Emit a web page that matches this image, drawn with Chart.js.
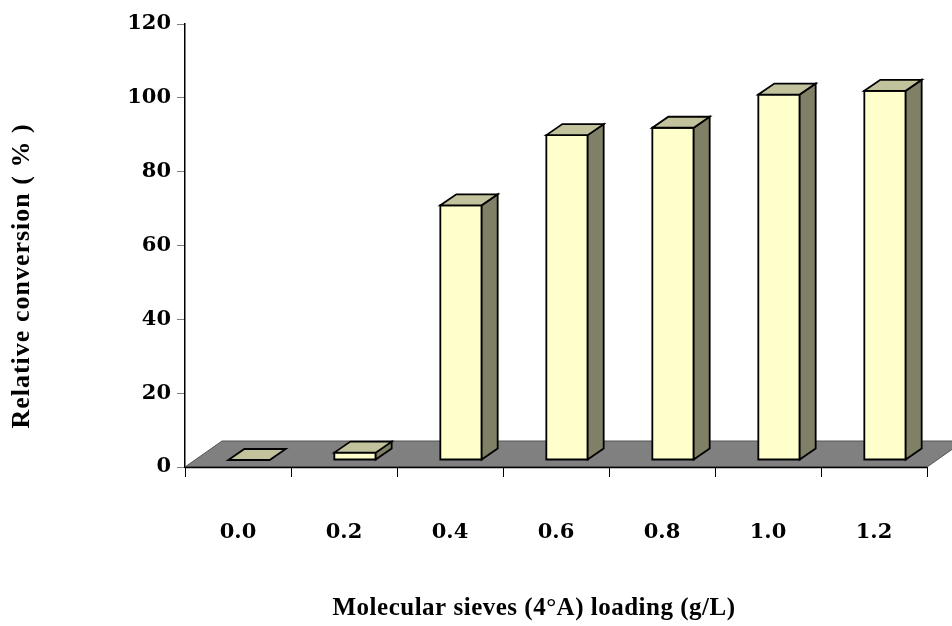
<!DOCTYPE html>
<html>
<head>
<meta charset="utf-8">
<script src="https://cdn.jsdelivr.net/npm/chart.js@4/dist/chart.umd.min.js"></script>
<style>
  html, body { margin: 0; padding: 0; background: #fff; }
  #wrap { width: 952px; height: 626px; }
</style>
</head>
<body>
<div id="wrap"><canvas id="chart" width="952" height="626"></canvas></div>
<script>
const loadings = ['0.0', '0.2', '0.4', '0.6', '0.8', '1.0', '1.2'];
const conversion = [0, 2, 69, 88, 90, 99, 100];
const yTicks = [0, 20, 40, 60, 80, 100, 120];

const frontColor = '#ffffcc';
const topColor = '#c2c29c';
const sideColor = '#808066';
const floorColor = '#808080';

// 3D look: floor depth, bar shift onto the floor, bar depth
const floorDx = 37, floorDy = -26;
const shiftDx = 11, shiftDy = -7;
const barDx = 16, barDy = -11;

const threeD = {
  id: 'threeD',
  beforeInit(chart) {
    chart.ctx.letterSpacing = '3px';
  },
  beforeDatasetsDraw(chart) {
    const ctx = chart.ctx;
    const a = chart.chartArea;
    const y0 = chart.scales.y.getPixelForValue(0);
    ctx.save();
    ctx.beginPath();
    ctx.moveTo(a.left, y0);
    ctx.lineTo(a.right, y0);
    ctx.lineTo(a.right + floorDx, y0 + floorDy);
    ctx.lineTo(a.left + floorDx, y0 + floorDy);
    ctx.closePath();
    ctx.fillStyle = floorColor;
    ctx.fill();
    ctx.strokeStyle = '#555';
    ctx.lineWidth = 1;
    ctx.stroke();
    ctx.beginPath();
    ctx.moveTo(a.left, y0 + 0.5);
    ctx.lineTo(a.right, y0 + 0.5);
    ctx.strokeStyle = '#000';
    ctx.lineWidth = 1.5;
    ctx.stroke();
    ctx.restore();
  },
  afterDatasetsDraw(chart) {
    const ctx = chart.ctx;
    const meta = chart.getDatasetMeta(0);
    ctx.save();
    ctx.lineWidth = 1.8;
    ctx.strokeStyle = '#000';
    ctx.lineJoin = 'miter';
    meta.data.forEach(bar => {
      const w = bar.width;
      const l = bar.x - w / 2 + shiftDx;
      const r = bar.x + w / 2 + shiftDx;
      const t = bar.y + shiftDy;
      const b = bar.base + shiftDy;
      // front face
      if (b - t > 0.5) {
        ctx.beginPath();
        ctx.rect(l, t, r - l, b - t);
        ctx.fillStyle = frontColor;
        ctx.fill();
        ctx.stroke();
        // side face
        ctx.beginPath();
        ctx.moveTo(r, t);
        ctx.lineTo(r + barDx, t + barDy);
        ctx.lineTo(r + barDx, b + barDy);
        ctx.lineTo(r, b);
        ctx.closePath();
        ctx.fillStyle = sideColor;
        ctx.fill();
        ctx.stroke();
      }
      // top face
      ctx.beginPath();
      ctx.moveTo(l, t);
      ctx.lineTo(l + barDx, t + barDy);
      ctx.lineTo(r + barDx, t + barDy);
      ctx.lineTo(r, t);
      ctx.closePath();
      ctx.fillStyle = topColor;
      ctx.fill();
      ctx.stroke();
    });
    ctx.restore();
  },
  afterDraw(chart) {
    const ctx = chart.ctx;
    ctx.save();
    ctx.fillStyle = '#000';
    ctx.textAlign = 'center';
    ctx.textBaseline = 'middle';
    ctx.letterSpacing = '0.5px';
    ctx.font = 'bold 25px "Liberation Serif", "Times New Roman", serif';
    ctx.fillText('Molecular sieves (4\u00B0A) loading (g/L)', 534, 609);
    ctx.letterSpacing = '1px';
    ctx.font = 'bold 26px "Liberation Serif", "Times New Roman", serif';
    ctx.translate(22, 276);
    ctx.rotate(-Math.PI / 2);
    ctx.fillText('Relative conversion ( % )', 0, 0);
    ctx.restore();
  }
};

new Chart(document.getElementById('chart'), {
  type: 'bar',
  data: {
    labels: loadings,
    datasets: [{
      label: 'Relative conversion',
      data: conversion,
      backgroundColor: 'rgba(0,0,0,0)',
      borderWidth: 0,
      categoryPercentage: 1.0,
      barPercentage: 0.39
    }]
  },
  options: {
    responsive: false,
    animation: false,
    events: [],
    layout: { padding: { top: 24, right: 25, left: 0, bottom: 0 } },
    plugins: {
      legend: { display: false },
      tooltip: { enabled: false }
    },
    scales: {
      y: {
        min: 0,
        max: 120,
        afterBuildTicks(scale) { scale.ticks = yTicks.map(v => ({ value: v })); },
        afterFit(scale) { scale.width = 185; },
        border: { color: '#000', width: 1.5 },
        grid: { drawOnChartArea: false, drawTicks: true, tickLength: 8, color: '#808080' },
        ticks: {
          color: '#000',
          padding: 6,
          font: { family: '"DejaVu Serif", serif', weight: 'bold', size: 21 }
        }
      },
      x: {
        afterFit(scale) { scale.height = 159; },
        border: { display: false },
        grid: { drawOnChartArea: false, drawTicks: true, tickLength: 10, color: '#000', offset: true },
        ticks: {
          color: '#000',
          padding: 43,
          maxRotation: 0,
          font: { family: '"DejaVu Serif", serif', weight: 'bold', size: 21 }
        }
      }
    }
  },
  plugins: [threeD]
});
</script>
</body>
</html>
